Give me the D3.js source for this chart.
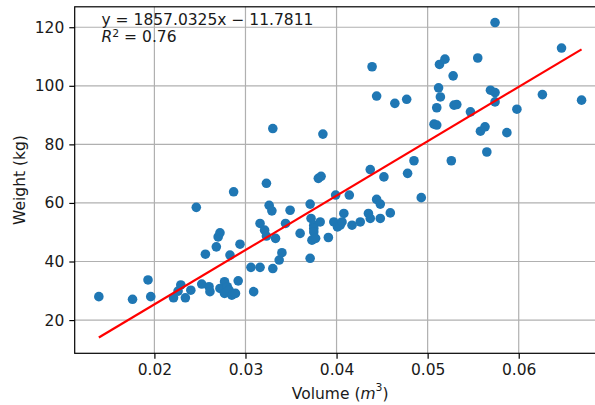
<!DOCTYPE html>
<html>
<head>
<meta charset="utf-8">
<script src="https://cdn.jsdelivr.net/npm/d3@7"></script>
<style>
  html, body { margin: 0; padding: 0; background: #fff; }
  svg { display: block; font-family: "DejaVu Sans", sans-serif; }
</style>
</head>
<body>
<svg id="chart" width="595" height="405"></svg>
<script>
// Body volume (m^3) and weight (kg) measurements
const volume = [
  0.0139, 0.0176, 0.0193, 0.0196, 0.0221, 0.0229, 0.0226, 0.0234, 0.0240, 0.0246,
  0.0252, 0.0256, 0.0260, 0.0261, 0.0268, 0.0270, 0.0272, 0.0272, 0.0277, 0.0280,
  0.0277, 0.0283, 0.0282, 0.0287, 0.0285, 0.0289, 0.0292, 0.0294, 0.0306, 0.0309,
  0.0316, 0.0316, 0.0321, 0.0323, 0.0323, 0.0326, 0.0329, 0.0330, 0.0333, 0.0337,
  0.0340, 0.0344, 0.0349, 0.0360, 0.0330, 0.0380, 0.0383, 0.0385, 0.0371, 0.0372,
  0.0375, 0.0382, 0.0375, 0.0375, 0.0373, 0.0377, 0.0391, 0.0371, 0.0399, 0.0414,
  0.0397, 0.0401, 0.0404, 0.0408, 0.0406, 0.0417, 0.0426, 0.0435, 0.0437, 0.0437,
  0.0444, 0.0448, 0.0448, 0.0459, 0.0452, 0.0478, 0.0485, 0.0493, 0.0526, 0.0565,
  0.0507, 0.0510, 0.0558, 0.0563, 0.0587, 0.0510, 0.0529, 0.0532, 0.0547, 0.0569,
  0.0574, 0.0574, 0.0598, 0.0626, 0.0669, 0.0512, 0.0514, 0.0444, 0.0439, 0.0464,
  0.0477, 0.0513, 0.0519, 0.0528, 0.0555, 0.0574, 0.0647
];
const weight = [
  28.0, 27.1, 33.7, 28.0, 27.6, 32.0, 29.9, 27.6, 30.2, 58.5,
  32.3, 42.5, 31.4, 29.7, 45.0, 48.4, 49.8, 30.8, 33.1, 31.4,
  29.1, 42.2, 30.2, 63.8, 28.5, 29.1, 33.4, 45.9, 38.0, 29.7,
  38.0, 53.0, 50.7, 48.7, 66.7, 59.2, 57.3, 37.6, 47.9, 40.5,
  43.0, 53.0, 57.5, 49.6, 85.4, 68.4, 69.1, 83.5, 59.6, 54.7,
  52.4, 53.5, 51.3, 50.1, 47.3, 47.9, 48.2, 41.1, 62.7, 62.7,
  53.5, 51.8, 52.4, 56.4, 53.5, 52.4, 53.5, 56.4, 54.7, 71.4,
  61.2, 59.6, 54.7, 56.6, 68.9, 70.1, 74.4, 61.8, 74.4, 77.4,
  86.9, 86.6, 84.5, 86.0, 84.0, 92.5, 93.4, 93.6, 91.1, 98.5,
  97.7, 94.5, 92.0, 97.0, 95.1, 99.3, 96.2, 96.5, 106.5, 94.0,
  95.4, 107.3, 109.1, 103.4, 109.5, 121.6, 112.9
];

// Least-squares fit reported on the chart
const slope = 1857.0325;
const intercept = -11.7811;
const rSquared = 0.76;

const xTicks = [0.02, 0.03, 0.04, 0.05, 0.06];
const yTicks = [20, 40, 60, 80, 100, 120];

const points = volume.map((v, i) => ({ v, w: weight[i] }));
const xExt = d3.extent(volume);
const fitLine = xExt.map(v => ({ v, w: slope * v + intercept }));

// Axis limits with 5% padding around data and fit line
const pad = (lo, hi) => { const m = (hi - lo) * 0.05; return [lo - m, hi + m]; };
const xDom = pad(xExt[0], xExt[1]);
const yAll = weight.concat(fitLine.map(d => d.w));
const yDom = pad(d3.min(yAll), d3.max(yAll));

const plotLeft = 74.7, plotTop = 6.8, plotW = 531, plotH = 346.5;
const x = d3.scaleLinear().domain(xDom).range([plotLeft, plotLeft + plotW]);
const y = d3.scaleLinear().domain(yDom).range([plotTop + plotH, plotTop]);

const svg = d3.select("#chart");
const fontSize = 15.5;
const gridColor = "#b0b0b0";

// Grid
svg.append("g").selectAll("line").data(xTicks).join("line")
  .attr("x1", d => x(d)).attr("x2", d => x(d))
  .attr("y1", plotTop).attr("y2", plotTop + plotH)
  .attr("stroke", gridColor).attr("stroke-width", 1.2);
svg.append("g").selectAll("line").data(yTicks).join("line")
  .attr("x1", plotLeft).attr("x2", plotLeft + plotW)
  .attr("y1", d => y(d)).attr("y2", d => y(d))
  .attr("stroke", gridColor).attr("stroke-width", 1.2);

// Scatter points
svg.append("g").selectAll("circle").data(points).join("circle")
  .attr("cx", d => x(d.v)).attr("cy", d => y(d.w))
  .attr("r", 4.8).attr("fill", "#1f77b4");

// Regression line
svg.append("path").datum(fitLine)
  .attr("d", d3.line().x(d => x(d.v)).y(d => y(d.w)))
  .attr("fill", "none").attr("stroke", "#ff0000").attr("stroke-width", 2.2);

// Axes
const xAxis = d3.axisBottom(x).tickValues(xTicks).tickFormat(d3.format(".2f"))
  .tickSizeInner(5.4).tickSizeOuter(0).tickPadding(5);
const yAxis = d3.axisLeft(y).tickValues(yTicks).tickFormat(d3.format("d"))
  .tickSizeInner(5.4).tickSizeOuter(0).tickPadding(5);

const gx = svg.append("g").attr("transform", `translate(0,${plotTop + plotH})`).call(xAxis);
const gy = svg.append("g").attr("transform", `translate(${plotLeft},0)`).call(yAxis);
[gx, gy].forEach(g => {
  g.selectAll(".domain").remove();
  g.selectAll(".tick line").attr("stroke", "#000").attr("stroke-width", 1.2);
  g.selectAll(".tick text").attr("fill", "#1a1a1a").attr("font-size", fontSize)
    .attr("font-family", "DejaVu Sans");
});

// Spines
svg.append("rect")
  .attr("x", plotLeft).attr("y", plotTop).attr("width", plotW).attr("height", plotH)
  .attr("fill", "none").attr("stroke", "#000").attr("stroke-width", 1.2);

// Axis labels
const xl = svg.append("text")
  .attr("x", plotLeft + plotW / 2).attr("y", 398.5)
  .attr("text-anchor", "middle").attr("font-size", fontSize).attr("fill", "#1a1a1a");
xl.append("tspan").text("Volume (");
xl.append("tspan").attr("font-style", "italic").text("m");
xl.append("tspan").attr("font-size", fontSize * 0.7).attr("dy", -8).text("3");
xl.append("tspan").attr("dy", 8).text(")");

svg.append("text")
  .attr("transform", `translate(24.5,${plotTop + plotH / 2}) rotate(-90)`)
  .attr("text-anchor", "middle").attr("font-size", fontSize).attr("fill", "#1a1a1a")
  .text("Weight (kg)");

// Fit annotation: equation on the first line, R^2 on the second
const fmtSign = intercept < 0 ? " \u2212 " : " + ";
const note = svg.append("text")
  .attr("x", 101.5).attr("y", 25.2).attr("font-size", fontSize).attr("fill", "#1a1a1a");
note.append("tspan")
  .text(`y = ${slope.toFixed(4)}x${fmtSign}${Math.abs(intercept).toFixed(4)}`);
note.append("tspan").attr("x", 101.5).attr("dy", 16.6)
  .attr("font-style", "italic").text("R");
note.append("tspan").attr("font-size", fontSize * 0.7).attr("dy", -4.5).text("2");
note.append("tspan").attr("dy", 4.5).text(` = ${rSquared.toFixed(2)}`);
</script>
</body>
</html>
